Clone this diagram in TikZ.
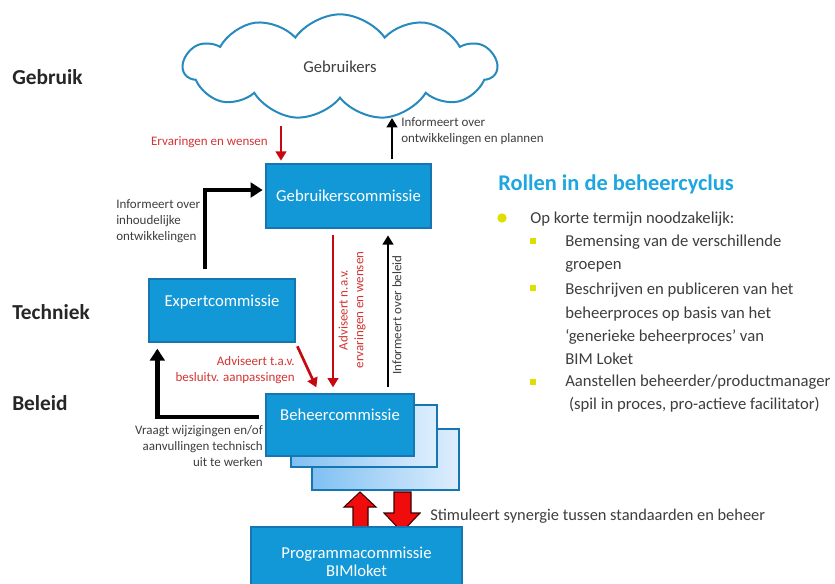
\documentclass[tikz,border=0pt]{standalone}
\usepackage{fontspec}
\setmainfont{Carlito}
\usetikzlibrary{positioning, arrows.meta, shapes.symbols, calc}
\definecolor{boxblue}{RGB}{18,152,214}
\definecolor{boxline}{RGB}{22,118,178}
\definecolor{stackdark}{RGB}{128,192,242}
\definecolor{stacklight}{RGB}{222,238,253}
\definecolor{cloudline}{RGB}{38,138,190}
\definecolor{arrred}{RGB}{200,8,16}
\definecolor{lblred}{RGB}{212,52,52}
\definecolor{txtgray}{RGB}{62,62,62}
\definecolor{titleblue}{RGB}{30,166,224}
\definecolor{bulyellow}{RGB}{222,222,0}
\definecolor{fatred}{RGB}{240,12,12}
\tikzset{
    box/.style={draw=boxline, fill=boxblue, text=white, line width=1pt, inner sep=0pt, font=\fontsize{12.5}{13.5}\selectfont}, % the blue committee boxes
    toptext/.style={text height=8pt, text depth=14.5pt}, % pushes the box text a bit upwards
    stack/.style={draw=boxline, left color=stackdark, right color=stacklight, line width=1pt}, % boxes stacked behind Beheercommissie
    redarr/.style={draw=arrred, line width=2pt, -{Triangle[width=8pt,length=7pt]}}, % red advice arrows
    blkarr/.style={draw=black, line width=2.2pt, -{Triangle[width=8pt,length=7pt]}}, % black inform arrows
    fatarr/.style={draw=black, line width=3.3pt, -{Triangle[width=11pt,length=9pt]}}, % thick elbow arrows
    lbl/.style={text=txtgray, inner sep=0pt, font=\fontsize{9.75}{11.8}\selectfont}, % small arrow labels
    redlbl/.style={lbl, text=lblred}, % red arrow labels
    side/.style={anchor=west, inner sep=0pt, text=black!85, font=\bfseries\fontsize{16}{19}\selectfont}, % level names on the left
    listtxt/.style={anchor=west, align=left, text=txtgray, inner sep=0pt, font=\fontsize{12.5}{17.6}\selectfont}, % right hand list
    sqbullet/.style={fill=bulyellow, minimum size=3.8pt, inner sep=0pt}, % square yellow bullet
}
\begin{document}
\begin{tikzpicture}[x=0.75pt, y=-0.75pt]
\clip (0,0) rectangle (835,583);
\fill[white] (0,0) rectangle (835,583);
\node[side] (use) at (12,77) {Gebruik};
\node[side] (tech) at (12,312) {Techniek};
\node[side] (pol) at (12,403) {Beleid};
\node[cloud, draw=cloudline, line width=1.5pt, cloud puffs=11, cloud puff arc=110, aspect=3, cloud ignores aspect, minimum width=235pt, minimum height=79pt, text=txtgray, font=\fontsize{12.5}{15}\selectfont] (users) at (340,67) {Gebruikers};
\node[box, minimum width=123.75pt, minimum height=48pt] (gc) at (348.5,196) {Gebruikerscommissie};
\node[box, toptext, minimum width=109.5pt, minimum height=47.25pt] (ec) at (222,310.5) {Expertcommissie};
\node[stack, minimum width=110.25pt, minimum height=45.75pt] (st3) at (385.5,459.5) {};
\node[stack, minimum width=109.5pt, minimum height=46.5pt] (st2) at (364,436) {};
\node[box, toptext, minimum width=111pt, minimum height=46.5pt] (bc) at (340,425) {Beheercommissie};
\draw[fill=fatred, draw=black!75!red, line width=0.8pt] (353,530) -- (353,507) -- (344,507) -- (360,492) -- (376,507) -- (368,507) -- (368,530) -- cycle;
\draw[fill=fatred, draw=black!75!red, line width=0.8pt] (394,492) -- (411,492) -- (411,513) -- (420,513) -- (402,532) -- (384,513) -- (394,513) -- cycle;
\node[box, align=center, minimum width=158.25pt, minimum height=52.5pt, font=\fontsize{12.5}{13.5}\selectfont] (pc) at (356.5,562) {Programmacommissie\\BIMloket};
\coordinate (ew) at (281,126);
\coordinate (io) at (392,118);
\coordinate (ei) at (205,0);
\coordinate (an) at (333,0);
\coordinate (ib) at (388,0);
\draw[redarr, shorten >=2pt] (ew) -- (ew |- gc.north);
\node[redlbl, anchor=east] (ewl) at (268,142) {Ervaringen en wensen};
\draw[blkarr, shorten <=3pt] (gc.north -| io) -- (io);
\node[lbl, anchor=west, align=left] (iol) at (401,131) {Informeert over\\ontwikkelingen en plannen};
\draw[fatarr, shorten <=6.75pt, shorten >=2pt] (ec.north -| ei) |- ($(gc.west)+(0,-6)$);
\node[lbl, anchor=west, align=left] (eil) at (116,221) {Informeert over\\inhoudelijke\\ontwikkelingen};
\draw[redarr, shorten <=5pt, shorten >=4.5pt] (gc.south -| an) -- (bc.north -| an);
\node[redlbl, rotate=90, align=center] (anl) at (352,310) {Adviseert n.a.v.\\ervaringen en wensen};
\draw[blkarr, shorten <=4.5pt, shorten >=5pt] (bc.north -| ib) -- (gc.south -| ib);
\node[lbl, rotate=90] (ibl) at (397,315) {Informeert over beleid};
\draw[redarr, shorten <=3pt] (ec.south east) -- ($(bc.north west)+(51,-6)$);
\node[redlbl, anchor=east, align=right] (tav) at (295,370) {Adviseert t.a.v.\\besluitv. aanpassingen};
\draw[fatarr, shorten <=4.5pt, shorten >=4.5pt] ($(bc.west)+(0,-8)$) -| ($(ec.south west)+(9,0)$);
\node[lbl, anchor=east, align=right] (vw) at (263,446) {Vraagt wijzigingen en/of\\aanvullingen technisch\\uit te werken};
\node[anchor=west, inner sep=0pt, text=txtgray, font=\fontsize{12.3}{14}\selectfont] (stim) at (430,516) {Stimuleert synergie tussen standaarden en beheer};
\node[anchor=west, inner sep=0pt, text=titleblue, font=\bfseries\fontsize{16.8}{19}\selectfont] (title) at (498,184) {Rollen in de beheercyclus};
\node[circle, fill=bulyellow, minimum size=7pt, inner sep=0pt] (b0) at (502,218) {};
\node[listtxt] (l0) at (530,219) {Op korte termijn noodzakelijk:};
\node[sqbullet] (b1) at (533,241) {};
\node[listtxt] (l1) at (565,253.5) {Bemensing van de verschillende\\groepen};
\node[sqbullet] (b2) at (533,288) {};
\node[listtxt] (l2) at (565,324) {Beschrijven en publiceren van het\\beheerproces op basis van het\\`generieke beheerproces' van\\BIM Loket};
\node[sqbullet] (b3) at (533,382) {};
\node[listtxt] (l3) at (565,393.5) {Aanstellen beheerder/productmanager\\\ (spil in proces, pro-actieve facilitator)};
\end{tikzpicture}
\end{document}
